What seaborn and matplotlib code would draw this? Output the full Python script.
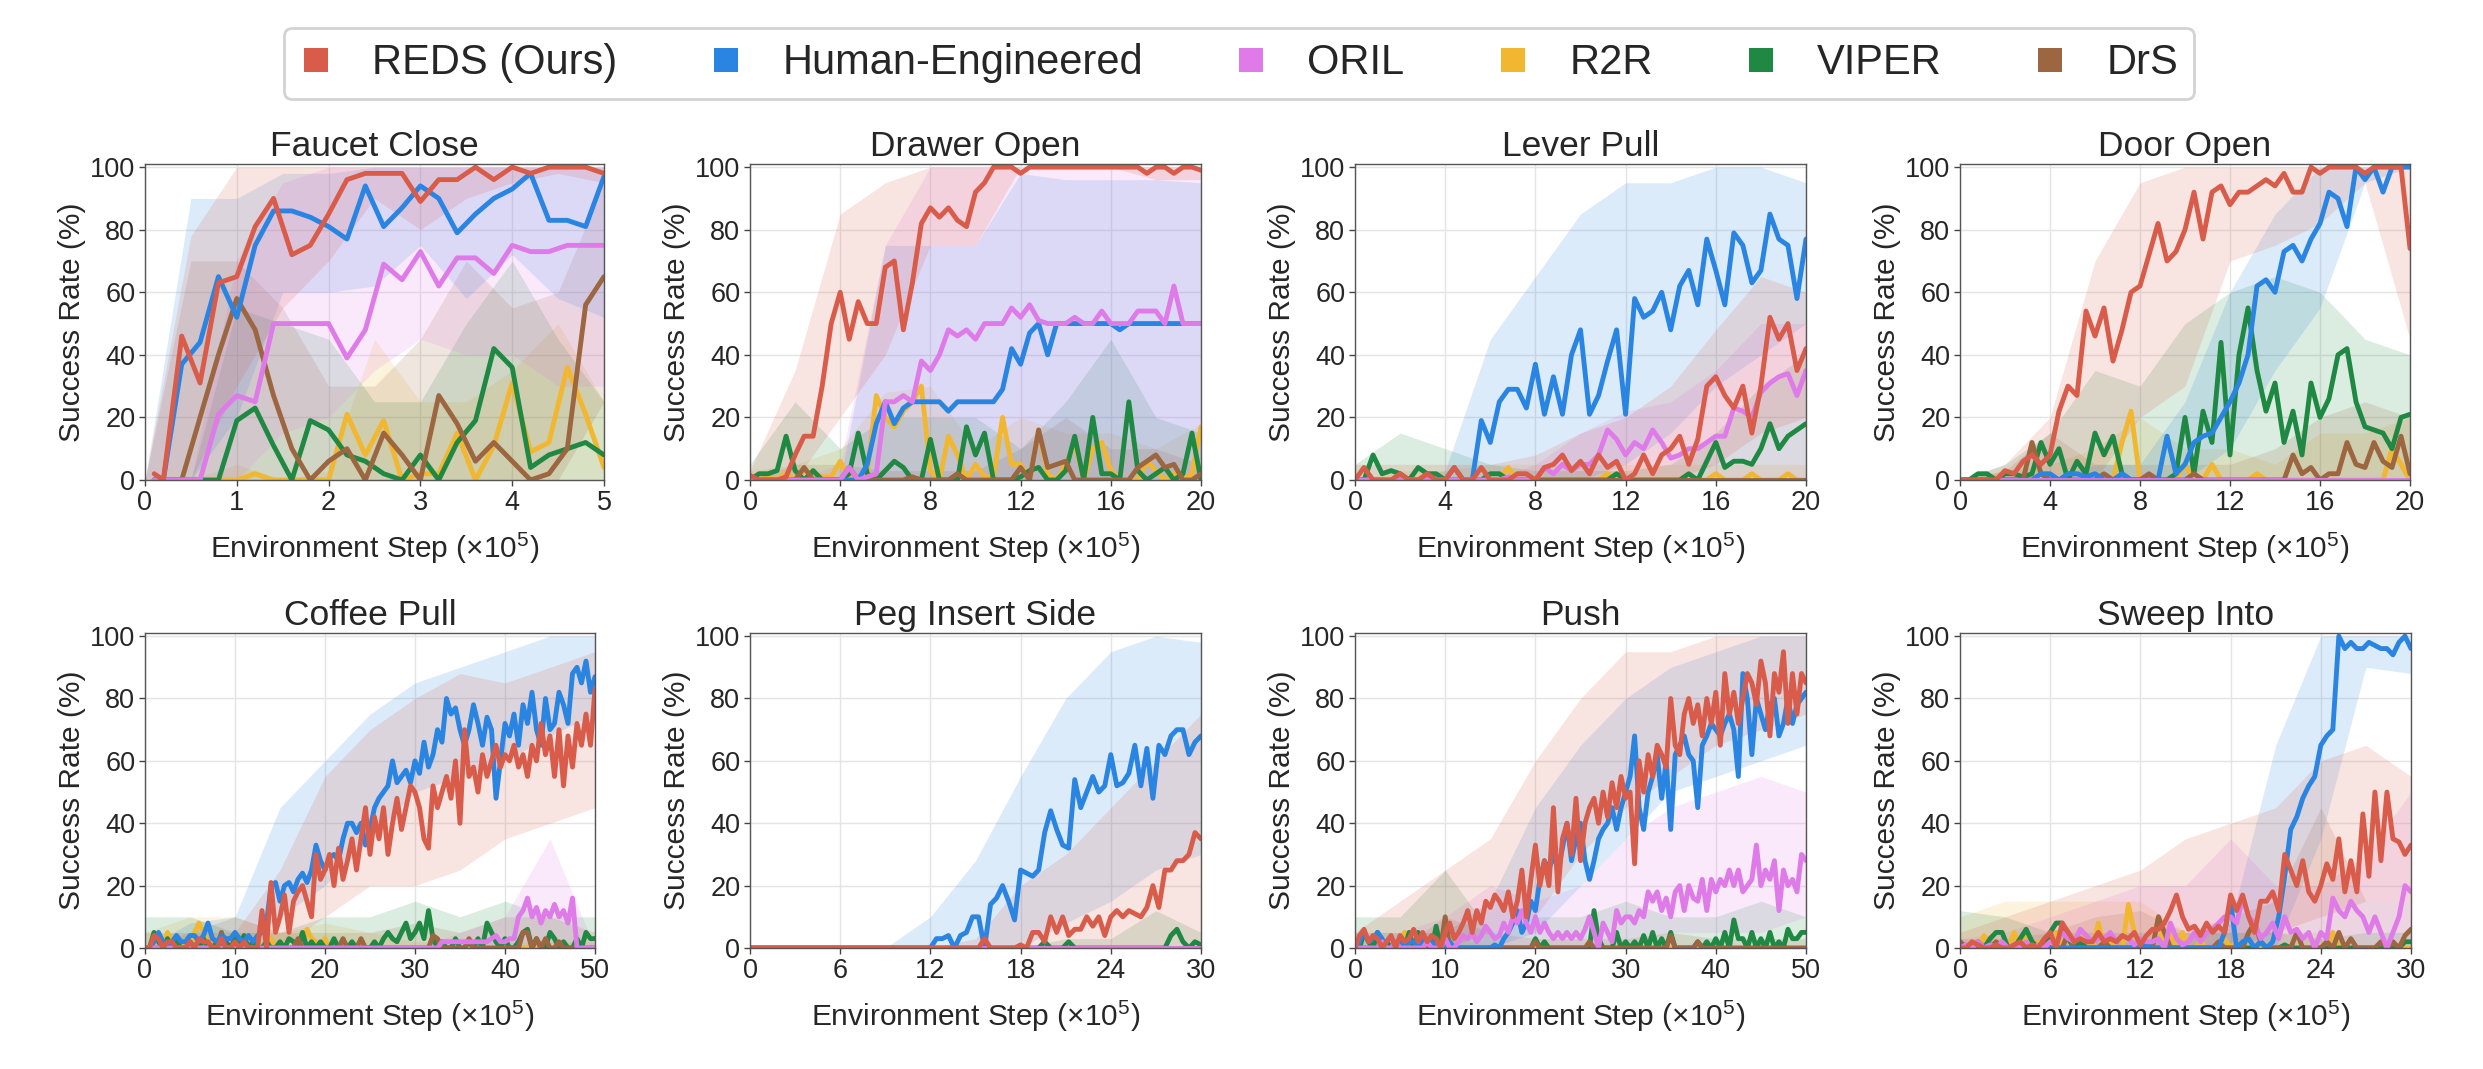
import numpy as np
import pandas as pd
import matplotlib
matplotlib.use("Agg")
import matplotlib.pyplot as plt
import seaborn as sns
from matplotlib.lines import Line2D

# ---------------------------------------------------------------- metadata
METHODS = ["REDS (Ours)", "Human-Engineered", "ORIL", "R2R", "VIPER", "DrS"]
COLORS = ["#D95C4A", "#2A84E2", "#DE7BE8", "#F2B731", "#1F8944", "#9C6640"]
DRAW_ORDER = ["R2R", "VIPER", "DrS", "Human-Engineered", "ORIL", "REDS (Ours)"]
TITLES = ["Faucet Close", "Drawer Open", "Lever Pull", "Door Open",
          "Coffee Pull", "Peg Insert Side", "Push", "Sweep Into"]
XMAX = [5, 20, 20, 20, 50, 30, 50, 30]
XTICKS = [[0, 1, 2, 3, 4, 5], [0, 4, 8, 12, 16, 20], [0, 4, 8, 12, 16, 20],
          [0, 4, 8, 12, 16, 20], [0, 10, 20, 30, 40, 50], [0, 6, 12, 18, 24, 30],
          [0, 10, 20, 30, 40, 50], [0, 6, 12, 18, 24, 30]]
YTICKS = [0, 20, 40, 60, 80, 100]
ZERO_BAND = [0, 0, 0, 0, 0, 0, 0, 0, 0, 0, 0]

# ---------------------------------------------------------------- Faucet Close
faucet_x = [0.1, 0.2, 0.4, 0.6, 0.8, 1.0, 1.2, 1.4, 1.6, 1.8, 2.0, 2.2, 2.4,
            2.6, 2.8, 3.0, 3.2, 3.4, 3.6, 3.8, 4.0, 4.2, 4.4, 4.6, 4.8, 5.0]
faucet_reds = [2, 0, 46, 31, 63, 65, 81, 90, 72, 75, 85, 96, 98, 98, 98, 89, 96, 96, 100, 96, 100, 98, 100, 100, 100, 98]
faucet_human = [0, 0, 37, 44, 65, 52, 75, 86, 86, 84, 81, 77, 94, 81, 87, 94, 90, 79, 85, 90, 93, 98, 83, 83, 81, 97]
faucet_oril = [0, 0, 0, 0, 21, 27, 25, 50, 50, 50, 50, 39, 48, 69, 64, 73, 62, 71, 71, 66, 75, 73, 73, 75, 75, 75]
faucet_r2r = [0, 0, 0, 0, 0, 0, 2, 0, 0, 0, 0, 21, 8, 19, 0, 2, 2, 15, 0, 11, 31, 9, 12, 36, 21, 4]
faucet_viper = [0, 0, 0, 0, 0, 19, 23, 11, 0, 19, 16, 8, 6, 2, 0, 8, 0, 12, 19, 42, 36, 4, 8, 10, 12, 8]
faucet_drs = [0, 0, 0, 20, 40, 58, 48, 27, 10, 0, 6, 10, 0, 15, 8, 0, 27, 18, 6, 12, 6, 0, 2, 10, 56, 65]

faucet_reds_lo = [0, 0, 30, 55, 70, 90, 80, 90, 95, 98, 95]
faucet_reds_hi = [0, 78, 100, 100, 100, 100, 100, 100, 100, 100, 100]
faucet_human_lo = [0, 0, 20, 60, 60, 62, 75, 58, 72, 58, 52]
faucet_human_hi = [0, 90, 90, 98, 98, 100, 100, 100, 100, 100, 100]
faucet_oril_lo = [0, 0, 0, 15, 20, 35, 45, 40, 40, 30, 30]
faucet_oril_hi = [0, 0, 70, 95, 100, 100, 100, 100, 100, 100, 100]
faucet_r2r_hi = [0, 0, 5, 0, 3, 45, 25, 25, 35, 50, 25]
faucet_viper_hi = [0, 0, 55, 50, 45, 25, 25, 50, 70, 45, 25]
faucet_drs_lo = [0, 0, 0, 0, 0, 0, 0, 0, 0, 0, 25]
faucet_drs_hi = [0, 70, 70, 55, 30, 30, 45, 70, 55, 60, 95]

# ---------------------------------------------------------------- Drawer Open
drawer_reds = [1.5, 0, 0, 0, 1, 8, 14, 14, 30, 50, 60, 45, 57, 50, 50, 68, 70, 48, 63, 82,
               87, 84, 87, 83, 81, 92, 95, 100, 100, 100, 98, 100, 100, 100, 100, 100, 100, 100, 100, 100,
               100, 100, 100, 100, 98, 100, 100, 98, 100, 100, 99]
drawer_human = [0, 0, 0, 0, 0, 0, 0, 0, 0, 0, 0, 0, 0, 5, 18, 25, 18, 23, 25, 25,
                25, 25, 22, 25, 25, 25, 25, 25, 29, 42, 37, 47, 50, 40, 50, 50, 50, 50, 50, 50,
                50, 48, 50, 50, 50, 50, 50, 50, 50, 50, 50]
drawer_oril = [0, 0, 0, 0, 0, 0, 0, 0, 0, 0, 0, 4, 0, 1, 2, 25, 25, 27, 25, 38,
               35, 40, 48, 46, 48, 45, 50, 50, 50, 55, 52, 56, 51, 50, 50, 50, 52, 50, 50, 54,
               50, 50, 50, 54, 54, 54, 50, 62, 50, 50, 50]
drawer_r2r = [0, 0, 1, 0, 2, 0, 3, 2, 1, 1, 6, 0, 1, 2, 27, 20, 17, 22, 25, 30,
              3, 0, 14, 8, 0, 5, 1, 1, 20, 5, 5, 0, 16, 2, 0, 5, 12, 0, 10, 12,
              3, 0, 0, 0, 6, 3, 0, 2, 0, 2, 17]
drawer_viper = [0, 2, 2, 3, 14, 3, 0, 3, 0, 0, 0, 2, 15, 2, 0, 3, 6, 4, 0, 0,
                13, 0, 0, 0, 17, 8, 15, 0, 0, 0, 1, 3, 4, 0, 0, 3, 14, 0, 20, 2,
                2, 0, 25, 3, 0, 2, 4, 0, 2, 15, 0]
drawer_drs = [0, 0, 0, 0, 0, 0, 4, 0, 0, 0, 0, 4, 0, 0, 0, 0, 0, 0, 1, 0,
              0, 0, 0, 2, 0, 0, 0, 0, 0, 0, 4, 0, 16, 4, 5, 6, 0, 0, 0, 0,
              0, 0, 0, 4, 6, 8, 4, 5, 0, 0, 2]

drawer_reds_lo = [0, 0, 20, 40, 75, 75, 100, 100, 100, 96, 96]
drawer_reds_hi = [3, 35, 85, 95, 100, 100, 100, 100, 100, 100, 100]
drawer_human_hi = [0, 0, 0, 75, 75, 75, 98, 96, 96, 96, 95]
drawer_oril_hi = [0, 0, 5, 75, 100, 100, 100, 100, 100, 100, 100]
drawer_r2r_hi = [3, 5, 10, 28, 30, 10, 20, 15, 15, 10, 18]
drawer_viper_hi = [5, 25, 10, 20, 20, 20, 10, 25, 45, 20, 15]
drawer_drs_hi = [0, 5, 5, 3, 3, 3, 10, 20, 10, 10, 5]

# ---------------------------------------------------------------- Lever Pull
lever_reds = [0, 4, 0, 0, 0, 2, 0, 0, 2, 0, 0, 4, 0, 0, 4, 0, 0, 0, 2, 2,
              0, 4, 5, 8, 3, 6, 2, 8, 4, 6, 0, 2, 8, 2, 8, 10, 14, 5, 13, 30,
              33, 27, 23, 30, 15, 30, 52, 45, 50, 35, 42]
lever_human = [0, 0, 0, 0, 0, 0, 0, 0, 0, 0, 0, 4, 0, 0, 19, 12, 25, 29, 29, 23,
               37, 21, 33, 21, 40, 48, 21, 27, 38, 48, 21, 58, 52, 54, 60, 48, 62, 67, 56, 77,
               67, 56, 79, 75, 63, 67, 85, 77, 75, 58, 77]
lever_oril = [0, 0, 0, 0, 0, 0, 0, 0, 0, 0, 0, 0, 0, 0, 0, 0, 0, 1, 0, 0,
              0, 4, 2, 5, 3, 5, 5, 8, 16, 13, 8, 12, 10, 16, 12, 7, 8, 10, 10, 12,
              14, 14, 23, 22, 20, 28, 31, 33, 34, 27, 35]
lever_r2r = [0, 0, 0, 0, 0, 0, 0, 0, 0, 0, 0, 0, 0, 0, 0, 0, 0, 4, 0, 0,
             0, 0, 0, 0, 0, 0, 0, 0, 2, 0, 0, 0, 0, 0, 0, 0, 0, 0, 0, 0,
             2, 0, 0, 0, 2, 0, 0, 0, 2, 0, 0]
lever_viper = [0, 0, 8, 2, 3, 2, 0, 4, 2, 2, 0, 0, 0, 0, 0, 2, 2, 0, 0, 0,
               0, 0, 0, 0, 0, 0, 0, 0, 0, 2, 0, 0, 0, 0, 0, 0, 0, 2, 0, 6,
               12, 4, 6, 6, 5, 10, 18, 10, 14, 16, 18]
lever_drs = [0, 0, 0, 0, 0, 0, 0, 0, 0, 0, 0, 0, 0, 0, 0, 0, 0, 0, 0, 0,
             0, 0, 0, 0, 0, 0, 0, 0, 0, 0, 0, 0, 0, 0, 0, 0, 0, 0, 0, 0,
             0, 0, 0, 0, 0, 0, 0, 0, 0, 0, 0]

lever_reds_lo = [0, 0, 0, 0, 0, 0, 0, 0, 5, 15, 20]
lever_reds_hi = [5, 5, 5, 5, 8, 15, 20, 30, 48, 65, 60]
lever_human_lo = [0, 0, 0, 0, 0, 0, 5, 15, 30, 40, 50]
lever_human_hi = [0, 0, 3, 45, 65, 85, 95, 95, 100, 100, 95]
lever_oril_hi = [0, 0, 0, 0, 5, 15, 22, 25, 35, 50, 50]
lever_r2r_hi = [0, 3, 3, 5, 5, 5, 5, 5, 5, 5, 5]
lever_viper_hi = [5, 15, 10, 5, 3, 3, 3, 5, 15, 30, 40]

# ---------------------------------------------------------------- Door Open
door_reds = [0, 0, 0, 0, 0, 3, 2, 6, 8, 5, 8, 22, 30, 27, 54, 46, 55, 38, 48, 60,
             62, 72, 82, 70, 73, 80, 92, 77, 92, 94, 88, 92, 92, 94, 96, 94, 98, 92, 92, 100,
             98, 100, 100, 100, 100, 98, 100, 100, 100, 100, 74]
door_human = [0, 0, 0, 0, 0, 0, 0, 0, 0, 2, 2, 0, 2, 2, 1, 2, 0, 0, 2, 0,
              0, 0, 0, 14, 2, 5, 12, 14, 15, 20, 25, 31, 40, 62, 64, 60, 73, 75, 70, 77,
              82, 92, 90, 81, 100, 96, 100, 92, 100, 100, 100]
door_oril = [0, 0, 0, 0, 0, 0, 0, 0, 0, 0, 0, 0, 0, 0, 0, 0, 0, 0, 0, 0,
             0, 0, 0, 0, 0, 0, 0, 0, 0, 0, 0, 0, 0, 0, 0, 0, 0, 0, 0, 0,
             0, 0, 0, 0, 0, 0, 0, 0, 0, 0, 0]
door_r2r = [0, 0, 0, 0, 0, 0, 0, 0, 0, 0, 0, 0, 0, 0, 0, 0, 0, 0, 12, 22,
            0, 0, 0, 0, 0, 5, 0, 0, 5, 0, 0, 0, 0, 2, 0, 0, 0, 0, 0, 0,
            0, 0, 0, 0, 0, 0, 0, 0, 10, 5, 0]
door_viper = [0, 0, 2, 2, 0, 2, 2, 1, 2, 12, 5, 10, 0, 6, 2, 15, 8, 14, 2, 0,
              0, 0, 0, 0, 2, 20, 2, 22, 12, 44, 8, 40, 55, 35, 22, 31, 12, 22, 8, 31,
              20, 26, 40, 42, 25, 17, 16, 15, 10, 20, 21]
door_drs = [0, 0, 0, 0, 0, 0, 0, 0, 12, 2, 0, 0, 0, 0, 0, 0, 2, 0, 0, 0,
            0, 2, 0, 0, 0, 0, 2, 0, 0, 0, 0, 0, 0, 0, 0, 0, 0, 8, 2, 4,
            0, 2, 2, 12, 5, 4, 12, 6, 4, 14, 2]

door_reds_lo = [0, 0, 0, 0, 20, 30, 70, 75, 82, 95, 45]
door_reds_hi = [0, 5, 20, 70, 95, 100, 100, 100, 100, 100, 100]
door_human_lo = [0, 0, 0, 0, 0, 0, 10, 35, 55, 95, 100]
door_human_hi = [0, 0, 0, 5, 5, 25, 60, 85, 100, 100, 100]
door_r2r_hi = [0, 3, 5, 10, 20, 10, 10, 5, 15, 15, 20]
door_viper_hi = [0, 5, 15, 35, 30, 50, 60, 65, 60, 45, 40]
door_drs_hi = [0, 3, 15, 5, 5, 5, 5, 10, 20, 25, 20]

# ---------------------------------------------------------------- Coffee Pull
coffee_reds = [0, 0, 4, 3, 0, 2, 2, 0, 0, 0, 2, 0, 3, 2, 2, 0, 0, 3, 0, 0, 2, 0, 2, 0, 0, 0,
               12, 0, 21, 5, 10, 17, 5, 15, 18, 20, 15, 10, 30, 22, 25, 30, 20, 32, 22, 28, 35, 25, 35, 45, 30, 42,
               35, 45, 30, 40, 48, 38, 45, 52, 50, 45, 35, 32, 52, 45, 50, 55, 48, 60, 40, 70, 55, 58, 50, 62, 55, 60,
               65, 58, 62, 60, 65, 58, 62, 55, 65, 60, 72, 62, 68, 55, 70, 52, 68, 58, 72, 65, 75, 65, 83]
coffee_human = [0, 0, 2, 5, 2, 0, 2, 4, 2, 2, 4, 4, 2, 4, 8, 3, 2, 4, 3, 3, 5, 3, 2, 4, 2, 4,
                5, 8, 20, 21, 15, 20, 21, 18, 22, 24, 21, 25, 33, 28, 25, 29, 30, 28, 35, 40, 40, 37, 40, 33, 38, 45,
                48, 50, 52, 60, 53, 55, 57, 53, 60, 56, 66, 58, 62, 70, 66, 80, 75, 77, 70, 65, 70, 78, 72, 65, 74, 70,
                48, 60, 72, 68, 75, 65, 78, 72, 82, 70, 65, 80, 70, 72, 82, 78, 72, 88, 90, 85, 92, 82, 87]
coffee_oril = [0, 0, 0, 0, 0, 0, 0, 0, 0, 0, 0, 0, 0, 0, 0, 0, 0, 0, 0, 0, 0, 0, 0, 0, 0, 0,
               0, 0, 0, 0, 0, 0, 0, 0, 0, 0, 0, 0, 0, 0, 0, 0, 0, 0, 0, 0, 0, 0, 0, 0, 0, 0,
               0, 0, 0, 0, 0, 0, 0, 0, 0, 0, 0, 0, 0, 0, 2, 2, 2, 2, 2, 2, 2, 2, 2, 2, 2, 3,
               4, 2, 2, 3, 3, 10, 12, 16, 10, 13, 8, 12, 10, 14, 10, 12, 8, 16, 0, 0, 0, 0, 0]
coffee_r2r = [0, 0, 2, 2, 0, 5, 2, 0, 2, 0, 0, 5, 8, 5, 2, 2, 2, 0, 3, 0, 0, 2, 0, 0, 0, 0,
              0, 0, 3, 0, 2, 0, 0, 0, 2, 0, 6, 3, 2, 0, 3, 0, 0, 0, 0, 0, 0, 0, 0, 0, 0, 0,
              0, 0, 0, 0, 0, 0, 0, 0, 0, 0, 0, 0, 0, 0, 0, 0, 0, 0, 0, 0, 0, 0, 0, 0, 0, 0,
              0, 0, 0, 0, 0, 0, 0, 0, 0, 0, 0, 0, 0, 0, 0, 0, 0, 0, 0, 0, 0, 0, 0]
coffee_viper = [0, 0, 5, 2, 0, 3, 0, 2, 0, 0, 2, 0, 0, 3, 0, 0, 2, 0, 2, 0, 3, 0, 4, 0, 2, 0,
                0, 2, 0, 0, 2, 0, 3, 2, 0, 5, 0, 2, 0, 2, 0, 0, 3, 0, 0, 0, 2, 0, 0, 0, 0, 2,
                0, 3, 5, 3, 2, 5, 8, 3, 5, 8, 3, 12, 3, 0, 2, 0, 0, 3, 0, 0, 2, 0, 3, 0, 8, 5,
                2, 0, 3, 0, 0, 2, 5, 6, 0, 3, 0, 0, 5, 3, 0, 2, 0, 0, 3, 0, 5, 3, 3]
coffee_drs = [0, 0, 0, 0, 0, 0, 0, 0, 0, 0, 0, 0, 0, 0, 0, 0, 0, 5, 0, 0, 0, 0, 0, 0, 0, 0,
              0, 0, 0, 0, 0, 0, 0, 0, 3, 0, 0, 0, 0, 0, 0, 0, 0, 0, 3, 0, 0, 0, 3, 0, 0, 0,
              0, 0, 0, 0, 0, 0, 0, 0, 0, 0, 0, 0, 4, 3, 0, 0, 0, 0, 0, 0, 3, 0, 0, 0, 0, 0,
              0, 0, 0, 0, 0, 0, 5, 5, 0, 3, 0, 3, 0, 0, 2, 0, 0, 0, 0, 0, 0, 0, 0]

coffee_reds_lo = [0, 0, 0, 0, 10, 20, 20, 25, 35, 40, 45]
coffee_reds_hi = [0, 5, 5, 25, 55, 70, 80, 88, 85, 90, 95]
coffee_human_lo = [0, 0, 0, 10, 20, 35, 50, 55, 60, 68, 75]
coffee_human_hi = [0, 8, 10, 45, 60, 75, 85, 90, 95, 100, 100]
coffee_oril_hi = [0, 0, 0, 0, 0, 0, 0, 5, 10, 35, 0]
coffee_r2r_hi = [5, 10, 10, 5, 8, 5, 2, 2, 2, 2, 2]
coffee_viper_hi = [10, 10, 5, 5, 10, 10, 15, 10, 15, 10, 10]
coffee_drs_hi = [5, 5, 10, 5, 5, 5, 8, 5, 10, 10, 5]

# ---------------------------------------------------------------- Peg Insert Side
peg_reds = [0, 0, 0, 0, 0, 0, 0, 0, 0, 0, 0, 0, 0, 0, 0, 0, 0, 0, 0, 0, 0, 0, 0, 0, 0, 0, 0, 0, 0, 0,
            0, 0, 0, 0, 0, 0, 0, 0, 0, 3, 0, 0, 0, 0, 0, 1, 0, 5, 5, 2,
            10, 5, 10, 4, 6, 6, 10, 7, 10, 4, 10, 12, 10, 12, 11, 10, 13, 20, 13, 25,
            25, 28, 28, 30, 37, 35]
peg_human = [0, 0, 0, 0, 0, 0, 0, 0, 0, 0, 0, 0, 0, 0, 0, 0, 0, 0, 0, 0, 0, 0, 0, 0, 0, 0, 0, 0, 0, 0,
             0, 3, 3, 4, 0, 4, 5, 10, 10, 0, 14, 16, 20, 15, 9, 25, 24, 23, 25, 37,
             44, 38, 33, 32, 54, 45, 50, 55, 50, 52, 62, 52, 53, 56, 65, 52, 64, 48, 65, 62,
             68, 70, 70, 62, 66, 68]
peg_oril = [0, 0, 0, 0, 0, 0, 0, 0, 0, 0, 0, 0, 0, 0, 0, 0, 0, 0, 0, 0, 0, 0, 0, 0, 0, 0, 0, 0, 0, 0,
            0, 0, 0, 0, 0, 0, 0, 0, 0, 0, 0, 0, 0, 0, 0, 0, 0, 0, 0, 0,
            0, 0, 0, 0, 0, 0, 0, 0, 0, 0, 0, 0, 0, 0, 0, 0, 0, 0, 0, 0,
            0, 0, 0, 0, 0, 0]
peg_r2r = peg_oril
peg_viper = [0, 0, 0, 0, 0, 0, 0, 0, 0, 0, 0, 0, 0, 0, 0, 0, 0, 0, 0, 0, 0, 0, 0, 0, 0, 0, 0, 0, 0, 0,
             0, 0, 0, 0, 0, 0, 0, 0, 0, 0, 0, 0, 0, 0, 0, 0, 0, 0, 0, 2,
             0, 0, 0, 2, 0, 0, 0, 0, 0, 0, 0, 0, 0, 0, 0, 0, 0, 0, 0, 0,
             4, 6, 2, 0, 2, 1]
peg_drs = peg_oril

peg_reds_hi = [0, 0, 0, 0, 0, 3, 20, 30, 45, 60, 75]
peg_human_lo = [0, 0, 0, 0, 0, 0, 0, 8, 15, 25, 30]
peg_human_hi = [0, 0, 0, 0, 10, 28, 55, 80, 95, 100, 98]
peg_viper_hi = [0, 0, 0, 0, 0, 0, 0, 3, 3, 12, 5]

# ---------------------------------------------------------------- Push
push_reds = [0, 4, 6, 2, 4, 3, 0, 2, 4, 0, 4, 2, 3, 6, 2, 5, 2, 4, 3, 0, 5, 8, 3, 5, 8, 12,
             5, 12, 8, 15, 13, 17, 15, 12, 18, 10, 15, 25, 10, 22, 33, 20, 28, 20, 45, 18, 35, 40, 30, 48, 28, 40,
             45, 48, 40, 50, 42, 53, 45, 55, 48, 50, 27, 60, 50, 62, 55, 65, 62, 58, 80, 65, 62, 75, 80, 72, 78, 68,
             80, 72, 82, 65, 88, 75, 82, 72, 80, 88, 85, 78, 92, 85, 68, 88, 82, 95, 72, 88, 75, 88, 85]
push_human = [0, 2, 5, 2, 3, 5, 3, 0, 0, 2, 2, 0, 2, 2, 0, 3, 2, 2, 0, 0, 0, 2, 0, 0, 0, 0,
              0, 0, 0, 0, 0, 1, 0, 3, 5, 8, 12, 5, 8, 15, 12, 22, 28, 25, 30, 25, 32, 40, 28, 35, 40, 28,
              22, 28, 35, 38, 40, 45, 38, 45, 50, 55, 68, 45, 38, 50, 55, 62, 48, 60, 38, 62, 65, 68, 62, 60, 45, 65,
              68, 72, 70, 68, 72, 75, 70, 55, 88, 80, 62, 80, 75, 70, 78, 80, 68, 72, 80, 72, 78, 80, 82]
push_oril = [0, 0, 0, 0, 0, 0, 2, 0, 0, 2, 0, 0, 0, 0, 0, 0, 2, 0, 0, 0, 3, 0, 0, 2, 4, 3,
             5, 2, 4, 7, 5, 3, 4, 8, 5, 10, 8, 12, 8, 5, 10, 5, 8, 5, 3, 5, 3, 5, 3, 5, 3, 6,
             10, 5, 0, 8, 5, 2, 12, 8, 10, 10, 8, 12, 10, 18, 15, 18, 12, 16, 10, 18, 20, 12, 20, 16, 15, 22,
             12, 22, 18, 22, 20, 25, 20, 25, 18, 20, 22, 33, 20, 25, 22, 28, 12, 25, 20, 22, 18, 30, 28]
push_r2r = [0, 0, 0, 0, 0, 0, 0, 0, 0, 0, 0, 5, 0, 0, 0, 0, 0, 0, 0, 0, 0, 0, 0, 0, 0, 0,
            0, 0, 0, 0, 0, 0, 0, 0, 0, 0, 0, 0, 0, 0, 0, 0, 0, 0, 0, 0, 0, 0, 0, 0, 0, 0,
            0, 0, 0, 0, 0, 0, 0, 0, 0, 0, 0, 0, 0, 0, 0, 0, 0, 0, 0, 0, 0, 0, 0, 0, 0, 0,
            0, 0, 0, 0, 0, 0, 0, 0, 0, 0, 0, 0, 0, 0, 0, 0, 0, 0, 0, 0, 0, 0, 0]
push_viper = [0, 0, 5, 2, 0, 5, 0, 2, 0, 0, 0, 0, 5, 0, 5, 0, 2, 0, 7, 0, 0, 0, 0, 0, 0, 0,
              0, 0, 0, 0, 0, 0, 0, 0, 0, 0, 0, 0, 0, 0, 3, 0, 2, 0, 0, 0, 0, 0, 0, 0, 0, 0,
              0, 12, 3, 0, 0, 0, 5, 0, 2, 0, 2, 0, 4, 0, 5, 0, 3, 0, 5, 0, 0, 0, 0, 0, 2, 0,
              2, 0, 3, 0, 5, 0, 9, 3, 3, 0, 5, 0, 3, 0, 5, 0, 2, 0, 6, 3, 3, 5, 5]
push_drs = [0, 0, 0, 0, 0, 0, 0, 0, 0, 0, 0, 0, 0, 0, 0, 0, 0, 0, 0, 0, 10, 0, 0, 0, 0, 0,
            0, 0, 0, 0, 0, 0, 0, 0, 0, 0, 0, 0, 0, 0, 2, 0, 0, 0, 0, 0, 0, 0, 0, 0, 0, 0,
            2, 0, 0, 0, 0, 0, 0, 0, 0, 0, 0, 0, 0, 0, 0, 0, 0, 0, 4, 0, 0, 0, 0, 0, 2, 0,
            0, 0, 0, 0, 0, 0, 0, 0, 0, 0, 0, 0, 0, 0, 0, 0, 0, 0, 0, 0, 0, 0, 0]

push_reds_lo = [0, 0, 0, 5, 10, 30, 45, 55, 65, 70, 75]
push_reds_hi = [5, 15, 25, 35, 60, 80, 95, 95, 100, 100, 100]
push_human_lo = [0, 0, 0, 0, 5, 20, 35, 50, 55, 60, 65]
push_human_hi = [5, 5, 5, 15, 45, 65, 80, 90, 95, 100, 100]
push_oril_lo = [0, 0, 0, 0, 0, 0, 0, 5, 5, 5, 10]
push_oril_hi = [0, 5, 10, 20, 15, 20, 35, 45, 50, 55, 50]
push_r2r_hi = [5, 5, 5, 0, 0, 0, 0, 0, 0, 0, 0]
push_viper_hi = [10, 10, 25, 5, 10, 10, 15, 10, 10, 15, 10]
push_drs_hi = [0, 0, 10, 5, 3, 3, 3, 5, 3, 3, 3]

# ---------------------------------------------------------------- Sweep Into
sweep_reds = [0, 0, 2, 1, 0, 0, 1, 0, 0, 1, 2, 0, 1, 0, 3, 5, 0, 8, 5, 2,
              3, 2, 2, 5, 2, 3, 2, 4, 3, 5, 1, 4, 6, 6, 8, 12, 17, 10, 6, 7,
              4, 8, 5, 7, 5, 17, 12, 17, 10, 5, 15, 15, 18, 12, 30, 25, 20, 28, 18, 15,
              20, 27, 22, 35, 18, 28, 18, 43, 23, 50, 28, 50, 35, 34, 30, 33]
sweep_human = [0, 0, 0, 0, 0, 1, 0, 0, 0, 0, 0, 0, 0, 0, 0, 0, 0, 0, 0, 0,
               0, 0, 0, 0, 0, 0, 0, 0, 0, 0, 0, 1, 0, 0, 0, 0, 0, 0, 0, 0,
               0, 0, 0, 0, 5, 15, 0, 2, 3, 0, 2, 0, 2, 10, 23, 38, 42, 48, 52, 55,
               65, 68, 70, 100, 96, 98, 96, 96, 98, 97, 96, 96, 94, 98, 100, 96]
sweep_oril = [0, 1, 0, 2, 0, 1, 0, 2, 0, 1, 0, 2, 0, 1, 0, 2, 2, 5, 3, 2,
              6, 4, 2, 3, 3, 5, 2, 4, 3, 1, 3, 2, 2, 3, 0, 8, 3, 1, 2, 5,
              2, 5, 6, 8, 10, 10, 8, 16, 10, 8, 3, 5, 8, 3, 10, 5, 6, 3, 5, 0,
              5, 3, 16, 12, 10, 15, 12, 10, 5, 10, 5, 0, 5, 10, 20, 18]
sweep_r2r = [0, 0, 0, 0, 4, 0, 2, 0, 0, 5, 0, 6, 0, 2, 0, 0, 5, 0, 0, 2,
             0, 4, 0, 8, 0, 2, 0, 0, 14, 5, 0, 2, 0, 10, 0, 5, 0, 5, 0, 0,
             2, 0, 0, 0, 3, 0, 2, 0, 0, 0, 0, 0, 0, 0, 0, 0, 0, 0, 0, 0,
             0, 0, 5, 0, 0, 0, 0, 0, 0, 0, 0, 0, 0, 0, 0, 0]
sweep_viper = [2, 0, 0, 2, 0, 3, 5, 5, 0, 0, 3, 6, 2, 0, 0, 5, 8, 8, 3, 0,
               2, 0, 0, 0, 0, 0, 0, 0, 0, 0, 0, 0, 0, 0, 0, 0, 0, 0, 0, 0,
               0, 0, 0, 0, 0, 0, 0, 0, 0, 0, 2, 0, 0, 0, 1, 0, 0, 0, 0, 0,
               0, 0, 0, 0, 0, 0, 0, 0, 0, 0, 0, 0, 0, 0, 2, 2]
sweep_drs = [2, 0, 0, 0, 0, 0, 2, 0, 0, 0, 0, 0, 0, 0, 2, 0, 0, 0, 5, 0,
             0, 0, 0, 0, 2, 0, 0, 0, 0, 0, 0, 0, 0, 10, 5, 0, 0, 0, 0, 0,
             0, 0, 0, 2, 0, 0, 0, 0, 5, 8, 2, 0, 0, 0, 0, 0, 5, 0, 0, 0,
             0, 2, 0, 5, 0, 3, 0, 0, 0, 0, 2, 0, 2, 0, 4, 6]

sweep_reds_lo = [0, 0, 0, 0, 0, 0, 0, 5, 10, 15, 15]
sweep_reds_hi = [5, 10, 15, 20, 25, 35, 40, 45, 60, 65, 55]
sweep_human_lo = [0, 0, 0, 0, 0, 0, 0, 0, 35, 90, 88]
sweep_human_hi = [2, 2, 2, 2, 2, 3, 8, 65, 100, 100, 100]
sweep_oril_hi = [3, 5, 10, 15, 20, 20, 35, 20, 20, 30, 50]
sweep_r2r_hi = [10, 15, 15, 15, 15, 5, 5, 5, 5, 0, 0]
sweep_viper_hi = [12, 10, 5, 5, 5, 5, 5, 5, 3, 5, 5]
sweep_drs_hi = [3, 3, 5, 10, 12, 5, 10, 15, 45, 15, 15]

# ---------------------------------------------------------------- assemble
PANEL_LINES = [
    [faucet_reds, faucet_human, faucet_oril, faucet_r2r, faucet_viper, faucet_drs],
    [drawer_reds, drawer_human, drawer_oril, drawer_r2r, drawer_viper, drawer_drs],
    [lever_reds, lever_human, lever_oril, lever_r2r, lever_viper, lever_drs],
    [door_reds, door_human, door_oril, door_r2r, door_viper, door_drs],
    [coffee_reds, coffee_human, coffee_oril, coffee_r2r, coffee_viper, coffee_drs],
    [peg_reds, peg_human, peg_oril, peg_r2r, peg_viper, peg_drs],
    [push_reds, push_human, push_oril, push_r2r, push_viper, push_drs],
    [sweep_reds, sweep_human, sweep_oril, sweep_r2r, sweep_viper, sweep_drs],
]
PANEL_BANDS = [
    [(faucet_reds_lo, faucet_reds_hi), (faucet_human_lo, faucet_human_hi), (faucet_oril_lo, faucet_oril_hi),
     (ZERO_BAND, faucet_r2r_hi), (ZERO_BAND, faucet_viper_hi), (faucet_drs_lo, faucet_drs_hi)],
    [(drawer_reds_lo, drawer_reds_hi), (ZERO_BAND, drawer_human_hi), (ZERO_BAND, drawer_oril_hi),
     (ZERO_BAND, drawer_r2r_hi), (ZERO_BAND, drawer_viper_hi), (ZERO_BAND, drawer_drs_hi)],
    [(lever_reds_lo, lever_reds_hi), (lever_human_lo, lever_human_hi), (ZERO_BAND, lever_oril_hi),
     (ZERO_BAND, lever_r2r_hi), (ZERO_BAND, lever_viper_hi), (ZERO_BAND, ZERO_BAND)],
    [(door_reds_lo, door_reds_hi), (door_human_lo, door_human_hi), (ZERO_BAND, ZERO_BAND),
     (ZERO_BAND, door_r2r_hi), (ZERO_BAND, door_viper_hi), (ZERO_BAND, door_drs_hi)],
    [(coffee_reds_lo, coffee_reds_hi), (coffee_human_lo, coffee_human_hi), (ZERO_BAND, coffee_oril_hi),
     (ZERO_BAND, coffee_r2r_hi), (ZERO_BAND, coffee_viper_hi), (ZERO_BAND, coffee_drs_hi)],
    [(ZERO_BAND, peg_reds_hi), (peg_human_lo, peg_human_hi), (ZERO_BAND, ZERO_BAND),
     (ZERO_BAND, ZERO_BAND), (ZERO_BAND, peg_viper_hi), (ZERO_BAND, ZERO_BAND)],
    [(push_reds_lo, push_reds_hi), (push_human_lo, push_human_hi), (push_oril_lo, push_oril_hi),
     (ZERO_BAND, push_r2r_hi), (ZERO_BAND, push_viper_hi), (ZERO_BAND, push_drs_hi)],
    [(sweep_reds_lo, sweep_reds_hi), (sweep_human_lo, sweep_human_hi), (ZERO_BAND, sweep_oril_hi),
     (ZERO_BAND, sweep_r2r_hi), (ZERO_BAND, sweep_viper_hi), (ZERO_BAND, sweep_drs_hi)],
]

# ---------------------------------------------------------------- style
sns.set_theme(style="whitegrid")
plt.rcParams["font.family"] = ["Liberation Sans", "DejaVu Sans"]
plt.rcParams["mathtext.fontset"] = "custom"
plt.rcParams["mathtext.rm"] = "Liberation Sans"
plt.rcParams["mathtext.it"] = "Liberation Sans:italic"
plt.rcParams["mathtext.bf"] = "Liberation Sans:bold"

PALETTE = dict(zip(METHODS, COLORS))
W, H = 2483, 1069
fig = plt.figure(figsize=(W / 100, H / 100), dpi=100)

# axes boxes in pixels: (left, top, right, bottom)
BOXES = [(145, 164, 604, 480), (750, 164, 1201, 480), (1355, 164, 1806, 480), (1960, 164, 2410, 480),
         (145, 633, 595, 948), (750, 633, 1201, 948), (1355, 633, 1806, 948), (1960, 633, 2411, 948)]

for i, (l, t, r, b) in enumerate(BOXES):
    ax = fig.add_axes([l / W, 1 - b / H, (r - l) / W, (b - t) / H])
    xmax = XMAX[i]
    name_order = [METHODS.index(m) for m in DRAW_ORDER]
    for k in name_order:
        lo, hi = PANEL_BANDS[i][k]
        bx = np.linspace(0, xmax, len(lo))
        ax.fill_between(bx, lo, hi, color=COLORS[k], alpha=0.16, linewidth=0, zorder=1)
    frames = []
    for k, m in enumerate(METHODS):
        vals = PANEL_LINES[i][k]
        xs = faucet_x if i == 0 else np.linspace(0, xmax, len(vals))
        frames.append(pd.DataFrame({"step": xs, "rate": vals, "method": m}))
    df = pd.concat(frames, ignore_index=True)
    sns.lineplot(data=df, x="step", y="rate", hue="method", hue_order=DRAW_ORDER,
                 palette=PALETTE, linewidth=3.5, legend=False, errorbar=None, ax=ax)
    ax.set_xlim(0, xmax)
    ax.set_ylim(0, 101)
    ax.set_xticks(XTICKS[i])
    ax.set_yticks(YTICKS)
    ax.set_title(TITLES[i], fontsize=25.5, pad=6)
    ax.set_xlabel(r"Environment Step ($\times10^{5}$)", fontsize=21.5, labelpad=11)
    ax.set_ylabel("Success Rate (%)", fontsize=21.5, labelpad=3)
    ax.tick_params(axis="both", labelsize=19.5, length=4, width=1, color="#444444",
                   bottom=True, left=True, pad=3)
    ax.grid(True, color="#e4e4e4", linewidth=1.0)
    ax.set_axisbelow(True)
    for s in ax.spines.values():
        s.set_visible(True)
        s.set_color("#555555")
        s.set_linewidth(1.0)

handles = [Line2D([], [], marker="s", linestyle="None", markersize=17,
                  markerfacecolor=c, markeredgewidth=0) for c in COLORS]
leg = fig.legend(handles, METHODS, loc="center", bbox_to_anchor=(0.499, 0.9406), ncol=6,
                 fontsize=30, frameon=True, fancybox=True, handlelength=0.8,
                 handletextpad=0.95, columnspacing=2.2, borderpad=0.38)
leg.get_frame().set_edgecolor("#c8c8c8")
leg.get_frame().set_linewidth(2.0)

fig.savefig("out.png", dpi=100, facecolor="white")
